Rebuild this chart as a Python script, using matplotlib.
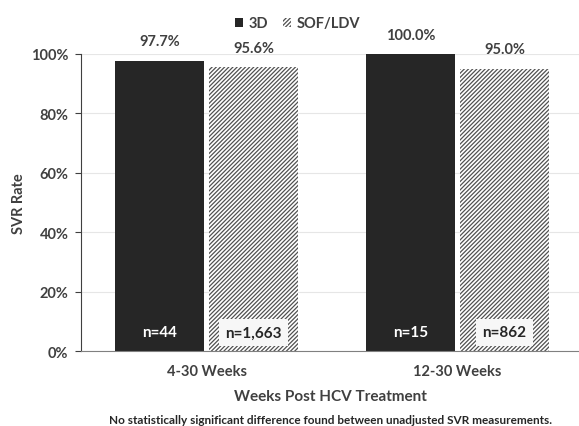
import matplotlib
matplotlib.use("Agg")
import matplotlib.pyplot as plt
import numpy as np

plt.rcParams['font.family'] = ['Lato', 'DejaVu Sans']
plt.rcParams['font.weight'] = 'bold'
plt.rcParams['axes.labelweight'] = 'bold'
plt.rcParams['hatch.linewidth'] = 0.9

groups = ["4-30 Weeks", "12-30 Weeks"]
series = ["3D", "SOF/LDV"]
svr_3d = [97.7, 100.0]
svr_sof = [95.6, 95.0]
n_3d = ["n=44", "n=15"]
n_sof = ["n=1,663", "n=862"]

txt = "#404040"

fig = plt.figure(figsize=(5.79, 4.27), dpi=100)
ax = fig.add_axes([0.140, 0.1745, 0.860, 0.6967])

x = np.arange(len(groups))
w = 0.355
off = 0.187

ax.bar(x - off, svr_3d, w, color="#262626", label=series[0], zorder=2)
ax.bar(x + off, svr_sof, w, color="white", edgecolor="#505050", linewidth=0,
       hatch="////////", label=series[1], zorder=2)

# value labels above bars
for xi, v in zip(x - off, svr_3d):
    ax.text(xi, v + 4.2, f"{v:.1f}%", ha="center", va="bottom", fontsize=10.5, color=txt)
for xi, v in zip(x + off, svr_sof):
    ax.text(xi, v + 4.2, f"{v:.1f}%", ha="center", va="bottom", fontsize=10.5, color=txt)

# sample sizes at the bottom
for xi, s in zip(x - off, n_3d):
    ax.text(xi, 6.4, s, ha="center", va="center", fontsize=11, color="white")
for xi, s in zip(x + off, n_sof):
    ax.text(xi, 6.4, s, ha="center", va="center", fontsize=11, color="#262626",
            bbox=dict(facecolor="#f7f7f7", edgecolor="none", boxstyle="square,pad=0.4"))

ax.set_xlim(-0.5, 1.484)
ax.set_ylim(0, 100)
ax.set_yticks(np.arange(0, 101, 20))
ax.set_yticklabels([f"{t}%" for t in range(0, 101, 20)])
ax.set_xticks(x)
ax.set_xticklabels(groups)
ax.tick_params(axis="x", length=0, pad=9, labelsize=10.5, colors=txt)
ax.tick_params(axis="y", length=4, labelsize=10.5, colors=txt, pad=5)
ax.grid(axis="y", color="#e6e6e6", linewidth=0.8, zorder=0)
ax.set_axisbelow(True)
for s in ["top", "right"]:
    ax.spines[s].set_visible(False)
ax.spines["left"].set_color("#404040")
ax.spines["bottom"].set_color("#808080")

ax.set_ylabel("SVR Rate", fontsize=10.5, color=txt, labelpad=4)
ax.set_xlabel("Weeks Post HCV Treatment", fontsize=11, color=txt, labelpad=8)

ax.legend(loc="lower center", bbox_to_anchor=(0.435, 1.035), ncol=2, frameon=False,
          fontsize=10.5, handlelength=0.55, handleheight=0.55, handletextpad=0.4,
          columnspacing=1.0, labelcolor=txt)

fig.text(0.57, 0.016, "No statistically significant difference found between unadjusted SVR measurements.",
         ha="center", va="center", fontsize=8.5, color="#262626")

fig.savefig("out.png", dpi=100)
